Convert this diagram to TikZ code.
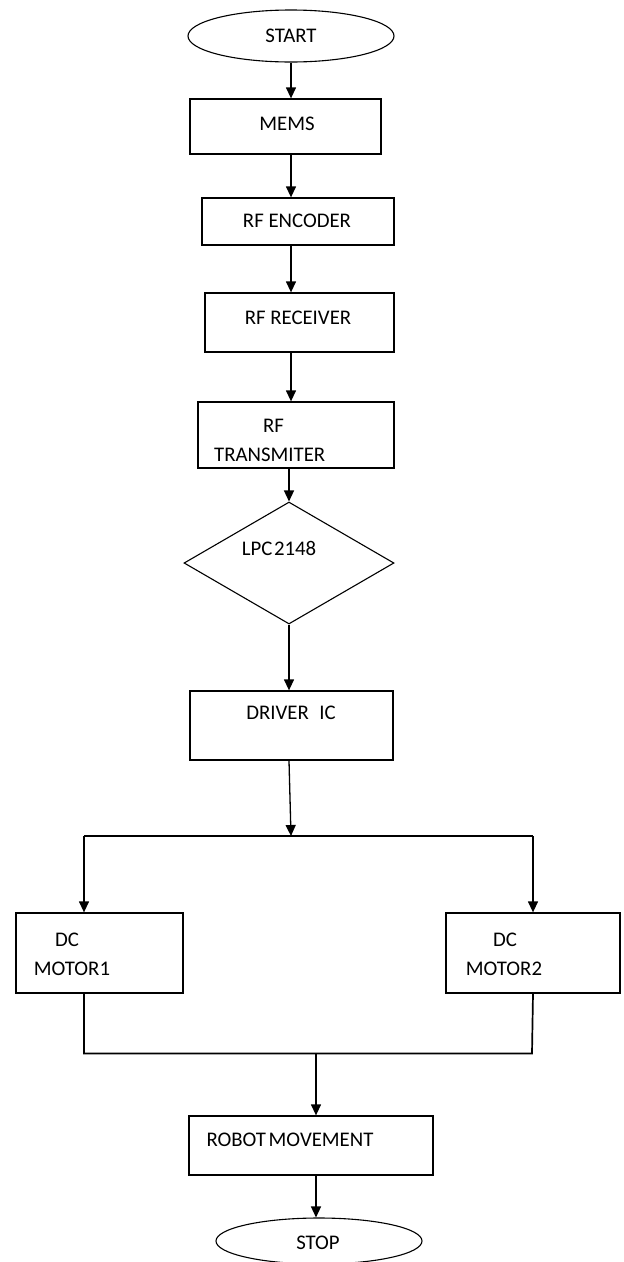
\documentclass[tikz,border=0pt]{standalone}
\usepackage{fontspec}
\setmainfont{Carlito}
\usetikzlibrary{arrows.meta,shapes.geometric}
\tikzset{
  box/.style={draw, line width=1.3pt, rectangle, inner sep=0pt},
  oval/.style={draw, line width=1.1pt, ellipse, inner sep=0pt},
  dia/.style={draw, line width=1.1pt, diamond, inner sep=0pt},
  txt/.style={inner sep=0pt, font=\fontsize{20.8}{24}\selectfont},
  conn/.style={line width=1.7pt},
  arr/.style={line width=1.3pt, -{Triangle[length=11pt,width=10pt]}}
}
\begin{document}
\begin{tikzpicture}[x=1pt,y=-1pt]
\useasboundingbox (0,0) rectangle (624,1262);
% nodes
\node[oval, minimum width=206pt, minimum height=52pt, txt] (start) at (291,36) {START};
\node[box, minimum width=191pt, minimum height=55pt] (mems) at (285.5,126.5) {};
\node[txt] (memsT) at (287,124) {MEMS};
\node[box, minimum width=192pt, minimum height=47pt] (enc) at (298,221.5) {};
\node[txt] (encT) at (297,221) {RF ENCODER};
\node[box, minimum width=189pt, minimum height=59pt] (rec) at (299.5,322.5) {};
\node[txt] (recT) at (298,318) {RF RECEIVER};
\node[box, minimum width=196pt, minimum height=66pt] (tra) at (296,435) {};
\node[txt, anchor=west] (traA) at (263,426) {RF};
\node[txt, anchor=west] (traB) at (214,455) {TRANSMITER};
\node[dia, minimum width=210pt, minimum height=122pt] (lpc) at (289,563) {};
\node[txt] (lpcT) at (279,548) {LPC\hspace{0.08em}2148};
\node[box, minimum width=203pt, minimum height=69pt] (drv) at (291.5,725.5) {};
\node[txt] (drvT) at (291,713) {DRIVER\hspace{0.5em}IC};
\node[box, minimum width=167pt, minimum height=80pt] (m1) at (99.5,953) {};
\node[txt] (m1A) at (67,940) {DC};
\node[txt] (m1B) at (72,969) {MOTOR1};
\node[box, minimum width=174pt, minimum height=80pt] (m2) at (533,953) {};
\node[txt] (m2A) at (505,940) {DC};
\node[txt] (m2B) at (504,969) {MOTOR2};
\node[box, minimum width=244pt, minimum height=59pt] (rob) at (311,1145.5) {};
\node[txt] (robT) at (290,1140) {ROBOT\hspace{-0.1em} MOVEMENT};
\node[oval, minimum width=206pt, minimum height=46pt] (stop) at (319,1241) {};
\node[txt] (stopT) at (318,1243) {STOP};
% coordinates
\coordinate (br) at (291,836);
\coordinate (brL) at (84,836);
\coordinate (brR) at (533,836);
\coordinate (jL) at (84,1053.5);
\coordinate (jR) at (532,1053.5);
\coordinate (jC) at (316,1053.5);
% connectors
\draw[arr] (start.south) -- (start.south |- mems.north);
\draw[arr] (start.south |- mems.south) -- (start.south |- enc.north);
\draw[arr] (start.south |- enc.south) -- (start.south |- rec.north);
\draw[arr] (start.south |- rec.south) -- (start.south |- tra.north);
\draw[arr] (lpc.north |- tra.south) -- (lpc.north);
\draw[arr] (lpc.south) -- (lpc.south |- drv.north);
\draw[arr] (lpc.south |- drv.south) -- (br);
\draw[conn] (brL) -- (brR);
\draw[arr] (brL) -- (brL |- m1.north);
\draw[arr] (brR) -- (brR |- m2.north);
\draw[conn] (jL |- m1.south) -- (jL) -- (jR) -- (brR |- m2.south);
\draw[arr] (jC) -- (jC |- rob.north);
\draw[arr] (jC |- rob.south) -- (jC |- stop.north);
\end{tikzpicture}
\end{document}
